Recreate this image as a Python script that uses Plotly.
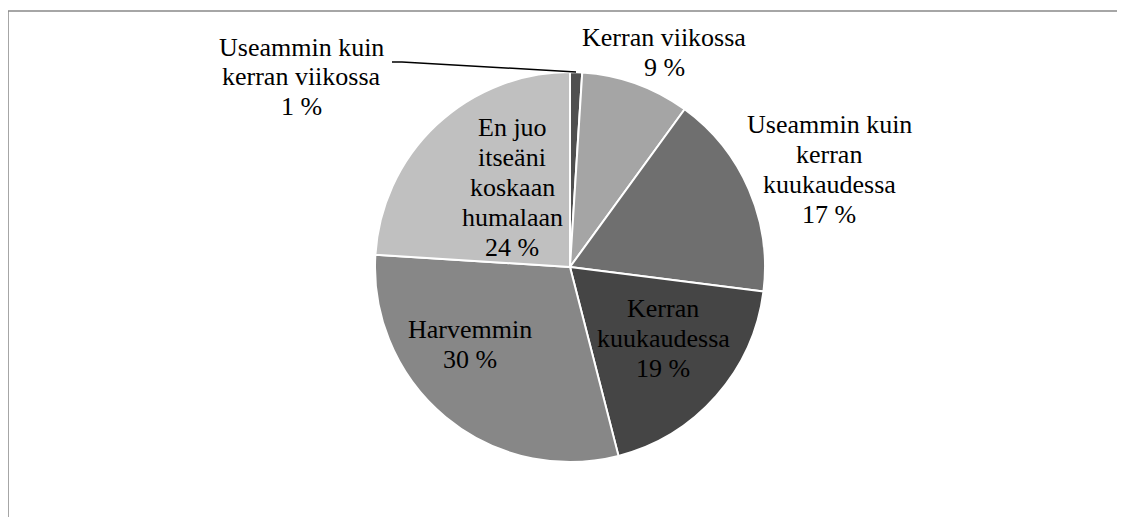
import plotly.graph_objects as go

W, H = 1125, 517
OFF = 8  # page body margin in the browser

categories = [
    "Useammin kuin kerran viikossa",
    "Kerran viikossa",
    "Useammin kuin kerran kuukaudessa",
    "Kerran kuukaudessa",
    "Harvemmin",
    "En juo itseäni koskaan humalaan",
]
values = [1, 9, 17, 19, 30, 24]
label_lines = [
    ["Useammin kuin", "kerran viikossa"],
    ["Kerran viikossa"],
    ["Useammin kuin", "kerran", "kuukaudessa"],
    ["Kerran", "kuukaudessa"],
    ["Harvemmin"],
    ["En juo", "itseäni", "koskaan", "humalaan"],
]
colors = ["#4f4f4f", "#a5a5a5", "#6f6f6f", "#454545", "#878787", "#c0c0c0"]

# label block centres in page pixels (x, y from top)
label_pos = [(302, 77), (664, 52), (829, 169), (663, 338), (470, 344), (512, 187)]
LINE_H = 30
FONT = dict(family="Liberation Serif", size=26, color="black")


def px(x):
    return (x - OFF) / W


def py(y):
    return 1 - (y - OFF) / H


cx, cy, r = 570, 267, 195

fig = go.Figure()
fig.add_trace(go.Pie(
    labels=categories,
    values=values,
    sort=False,
    direction="clockwise",
    rotation=0,
    textinfo="none",
    hoverinfo="label+percent",
    marker=dict(colors=colors, line=dict(color="white", width=2)),
    domain=dict(x=[px(cx - r), px(cx + r)], y=[py(cy + r), py(cy - r)]),
    showlegend=False,
))

for lines, v, (x, y) in zip(label_lines, values, label_pos):
    all_lines = lines + [f"{v} %"]
    n = len(all_lines)
    for i, t in enumerate(all_lines):
        yi = y + (i - (n - 1) / 2) * LINE_H
        fig.add_annotation(
            x=px(x), y=py(yi), xref="paper", yref="paper",
            text=t, showarrow=False,
            xanchor="center", yanchor="middle", align="center",
            font=FONT,
        )

# leader line for the small slice
fig.add_shape(
    type="path", xref="paper", yref="paper",
    path=f"M {px(392)} {py(62)} L {px(402)} {py(62)} L {px(576)} {py(72)}",
    line=dict(color="black", width=1.5),
)

# chart frame
fig.add_shape(
    type="rect", xref="paper", yref="paper",
    x0=px(8), y0=py(560), x1=px(1160), y1=py(11),
    line=dict(color="#898989", width=1.5),
)

fig.update_layout(
    width=W, height=H,
    margin=dict(l=0, r=0, t=0, b=0),
    paper_bgcolor="white",
    plot_bgcolor="white",
)

fig.write_html("out.html")
